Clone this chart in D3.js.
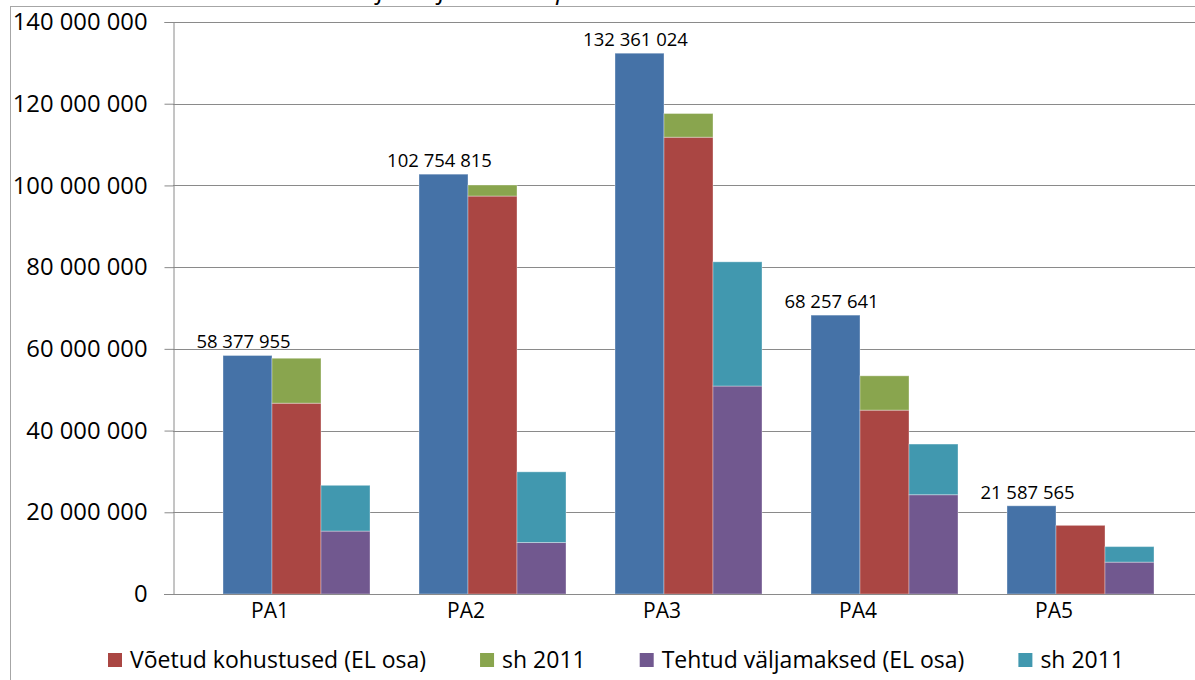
<!DOCTYPE html>
<html>
<head>
<meta charset="utf-8">
<script src="https://cdn.jsdelivr.net/npm/d3@7/dist/d3.min.js"></script>
<style>
  body { margin: 0; background: #fff; }
  svg { display: block; font-family: "Open Sans", sans-serif; }
</style>
</head>
<body>
<svg width="1195" height="680"></svg>
<script>
// data
var categories = ['PA1', 'PA2', 'PA3', 'PA4', 'PA5'];
var kokku = [58377955, 102754815, 132361024, 68257641, 21587565];
var kohustused = [46700000, 97400000, 111800000, 45000000, 16800000];
var kohustused2011 = [11000000, 2700000, 5800000, 8400000, 0];
var valjamaksed = [15400000, 12600000, 50900000, 24300000, 7800000];
var valjamaksed2011 = [11200000, 17300000, 30400000, 12400000, 3800000];
var yTicks = [0, 20000000, 40000000, 60000000, 80000000, 100000000, 120000000, 140000000];
var legendItems = [
  { name: 'Võetud kohustused (EL osa)', color: '#AA4643' },
  { name: 'sh 2011', color: '#89A54E' },
  { name: 'Tehtud väljamaksed (EL osa)', color: '#71588F' },
  { name: 'sh 2011', color: '#4198AF' }
];
var title = 'Kohustused ja väljamaksed prioriteetide lõikes';

var svg = d3.select('svg');

var x = d3.scaleBand().domain(categories).range([174, 1154]);
var slot = d3.scaleBand().domain(['tyhi', 'kokku', 'kohustused', 'valjamaksed'])
  .range([0, x.bandwidth()]);
var y = d3.scaleLinear().domain([0, 140000000]).range([594, 22]);

var fmt = function(v) { return d3.format(',')(v).replace(/,/g, ' '); };

// title, mostly above the picture (only descenders show)
svg.append('text')
  .attr('x', 238)
  .attr('y', -1)
  .style('font-size', '26px')
  .style('font-style', 'italic')
  .text(title);

// outer frame
svg.append('rect')
  .attr('x', 10.5).attr('y', 6.5)
  .attr('width', 1300).attr('height', 800)
  .attr('fill', 'none')
  .attr('stroke', '#a6a6a6');

// gridlines
svg.append('g')
  .selectAll('line')
  .data(yTicks.slice(1))
  .enter()
  .append('line')
  .attr('x1', 173).attr('x2', 1195)
  .attr('y1', function(d) { return Math.round(y(d)) + 0.5; })
  .attr('y2', function(d) { return Math.round(y(d)) + 0.5; })
  .attr('stroke', '#8a8a8a');

// y axis
var yAxis = svg.append('g')
  .attr('transform', 'translate(173.5,0)')
  .call(d3.axisLeft(y).tickValues(yTicks).tickSize(9).tickPadding(17).tickFormat(fmt));
yAxis.select('.domain').attr('stroke', '#8a8a8a');
yAxis.selectAll('.tick line').attr('stroke', '#8a8a8a');
yAxis.selectAll('.tick text')
  .attr('fill', '#000')
  .style('font-size', '23.8px')
  .style('font-family', '"Open Sans", sans-serif');

// bars: kokku
var bw = slot.bandwidth();
svg.append('g')
  .selectAll('rect')
  .data(kokku)
  .enter()
  .append('rect')
  .attr('x', function(d, i) { return x(categories[i]) + slot('kokku'); })
  .attr('y', function(d) { return y(d); })
  .attr('width', bw)
  .attr('height', function(d) { return y(0) - y(d); })
  .attr('fill', '#4572A7');

// stacked bars
function stacked(base, top, key, c1, c2) {
  var g = svg.append('g');
  g.selectAll('rect.base')
    .data(base)
    .enter()
    .append('rect')
    .attr('x', function(d, i) { return x(categories[i]) + slot(key); })
    .attr('y', function(d) { return y(d); })
    .attr('width', bw)
    .attr('height', function(d) { return y(0) - y(d); })
    .attr('fill', c1);
  g.selectAll('rect.top')
    .data(top)
    .enter()
    .append('rect')
    .attr('x', function(d, i) { return x(categories[i]) + slot(key); })
    .attr('y', function(d, i) { return y(base[i] + d); })
    .attr('width', bw)
    .attr('height', function(d, i) { return y(base[i]) - y(base[i] + d); })
    .attr('fill', c2);
}
stacked(kohustused, kohustused2011, 'kohustused', '#AA4643', '#89A54E');
stacked(valjamaksed, valjamaksed2011, 'valjamaksed', '#71588F', '#4198AF');

svg.selectAll('rect')
  .filter(function() { return this.getAttribute('fill') !== 'none'; })
  .attr('stroke', '#ffffff')
  .attr('stroke-opacity', 0.35)
  .attr('stroke-width', 1);

// x axis line
svg.append('line')
  .attr('x1', 164).attr('x2', 1195)
  .attr('y1', 594.5).attr('y2', 594.5)
  .attr('stroke', '#8a8a8a');

// category labels
svg.append('g')
  .selectAll('text')
  .data(categories)
  .enter()
  .append('text')
  .attr('x', function(d) { return x(d) + x.bandwidth() / 2 - 2; })
  .attr('y', 618)
  .attr('text-anchor', 'middle')
  .style('font-size', '21px')
  .text(function(d) { return d; });

// data labels
svg.append('g')
  .selectAll('text')
  .data(kokku)
  .enter()
  .append('text')
  .attr('x', function(d, i) { return x(categories[i]) + slot('kokku') + bw / 2 - 4; })
  .attr('y', function(d) { return y(d) - 7; })
  .attr('text-anchor', 'middle')
  .style('font-size', '18.5px')
  .text(function(d) { return fmt(d); });

// legend
var lx = 108;
legendItems.forEach(function(item) {
  svg.append('rect')
    .attr('x', lx).attr('y', 653)
    .attr('width', 14).attr('height', 14)
    .attr('fill', item.color);
  var t = svg.append('text')
    .attr('x', lx + 22)
    .attr('y', 668)
    .style('font-size', '23px')
    .text(item.name);
  lx = lx + 22 + t.node().getComputedTextLength() + 54;
});
</script>
</body>
</html>
